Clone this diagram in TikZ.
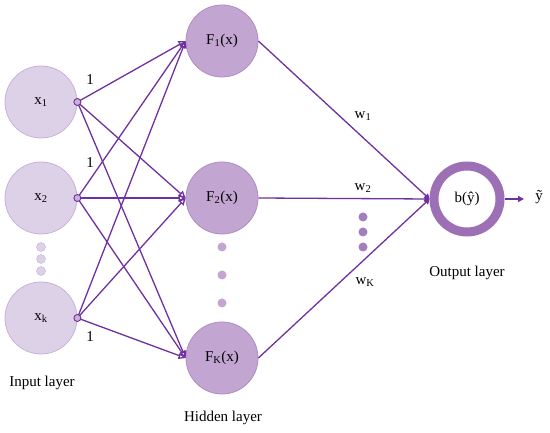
\documentclass[tikz,border=0pt]{standalone}
\usepackage{fontspec}
\setmainfont{Liberation Serif}
\usetikzlibrary{arrows.meta}
\definecolor{lineP}{HTML}{7030A0}
\definecolor{inFill}{HTML}{DDD1E7}
\definecolor{inDraw}{HTML}{C7B2DA}
\definecolor{hidFill}{HTML}{C2A5D0}
\definecolor{hidDraw}{HTML}{B08DC4}
\definecolor{ringC}{HTML}{9D70B6}
\definecolor{odot}{HTML}{A27EBD}
\begin{document}
\begin{tikzpicture}[x=1pt,y=-1pt,
  font=\fontsize{15}{17}\selectfont,
  inp/.style={circle,minimum size=72pt,inner sep=0pt,fill=inFill,draw=inDraw,line width=0.8pt},
  hid/.style={circle,minimum size=72pt,inner sep=0pt,fill=hidFill,draw=hidDraw,line width=0.8pt},
  ring/.style={circle,minimum size=66pt,inner sep=0pt,fill=white,draw=ringC,line width=9pt},
  cdot/.style={circle,minimum size=7pt,inner sep=0pt,fill=inDraw,draw=lineP,line width=0.9pt},
  indot/.style={circle,minimum size=9pt,inner sep=0pt,fill=inFill,draw=inDraw,line width=0.4pt},
  hdot/.style={circle,minimum size=9pt,inner sep=0pt,fill=hidFill},
  odotst/.style={circle,minimum size=9pt,inner sep=0pt,fill=odot},
  conn/.style={draw=lineP,line width=1.3pt},
  inarrow/.style={conn,-{Triangle[open,length=7pt,width=7pt]}},
  hidarrow/.style={conn,-{Triangle[length=5pt,width=6pt]}},
  lbl/.style={inner sep=0pt}
]
\useasboundingbox (0,0) rectangle (550,433);
% input layer
\node[inp] (x1) at (41,102) {x\textsubscript{1}};
\node[inp] (x2) at (41,198) {x\textsubscript{2}};
\node[inp] (xk) at (41,318) {x\textsubscript{k}};
\node[indot] (id1) at (41,247) {};
\node[indot] (id2) at (41,259) {};
\node[indot] (id3) at (41,271) {};
% hidden layer
\node[hid] (F1) at (222,41) {F\textsubscript{1}(x)};
\node[hid] (F2) at (222,198) {F\textsubscript{2}(x)};
\node[hid] (FK) at (222,358) {F\textsubscript{K}(x)};
\node[hdot] (hd1) at (222,247) {};
\node[hdot] (hd2) at (222,275) {};
\node[hdot] (hd3) at (222,303) {};
% output
\node[ring] (out) at (467,199) {b(ŷ)};
\node[odotst] (od1) at (363,217) {};
\node[odotst] (od2) at (363,232) {};
\node[odotst] (od3) at (363,247) {};
\coordinate (yend) at (524,199);
\node[lbl] (yt) at (539,197) {ỹ};
% input to hidden connectors
\foreach \i in {1,2,k}{
  \foreach \h in {1,2,K}{
    \draw[inarrow] (x\i.east) -- (F\h.west);
  }
}
\node[cdot] (c1) at (x1.east) {};
\node[cdot] (c2) at (x2.east) {};
\node[cdot] (ck) at (xk.east) {};
% hidden to output
\draw[hidarrow] (F1.east) -- (out.west);
\draw[hidarrow] (F2.east) -- (out.west);
\draw[hidarrow] (FK.east) -- (out.west);
\draw[conn,-{Triangle[length=6pt,width=6pt]}] (out.east) -- (yend);
% labels
\node[lbl] (l1) at (90,80) {1};
\node[lbl] (l2) at (90,163) {1};
\node[lbl] (l3) at (90,337) {1};
\node[lbl] (w1) at (363,116) {w\textsubscript{1}};
\node[lbl] (w2) at (363,188) {w\textsubscript{2}};
\node[lbl] (wK) at (365,282) {w\textsubscript{K}};
\node[lbl] (inl) at (42,383) {Input layer};
\node[lbl] (hidl) at (223,418) {Hidden layer};
\node[lbl] (outl) at (467,273) {Output layer};
\end{tikzpicture}
\end{document}
